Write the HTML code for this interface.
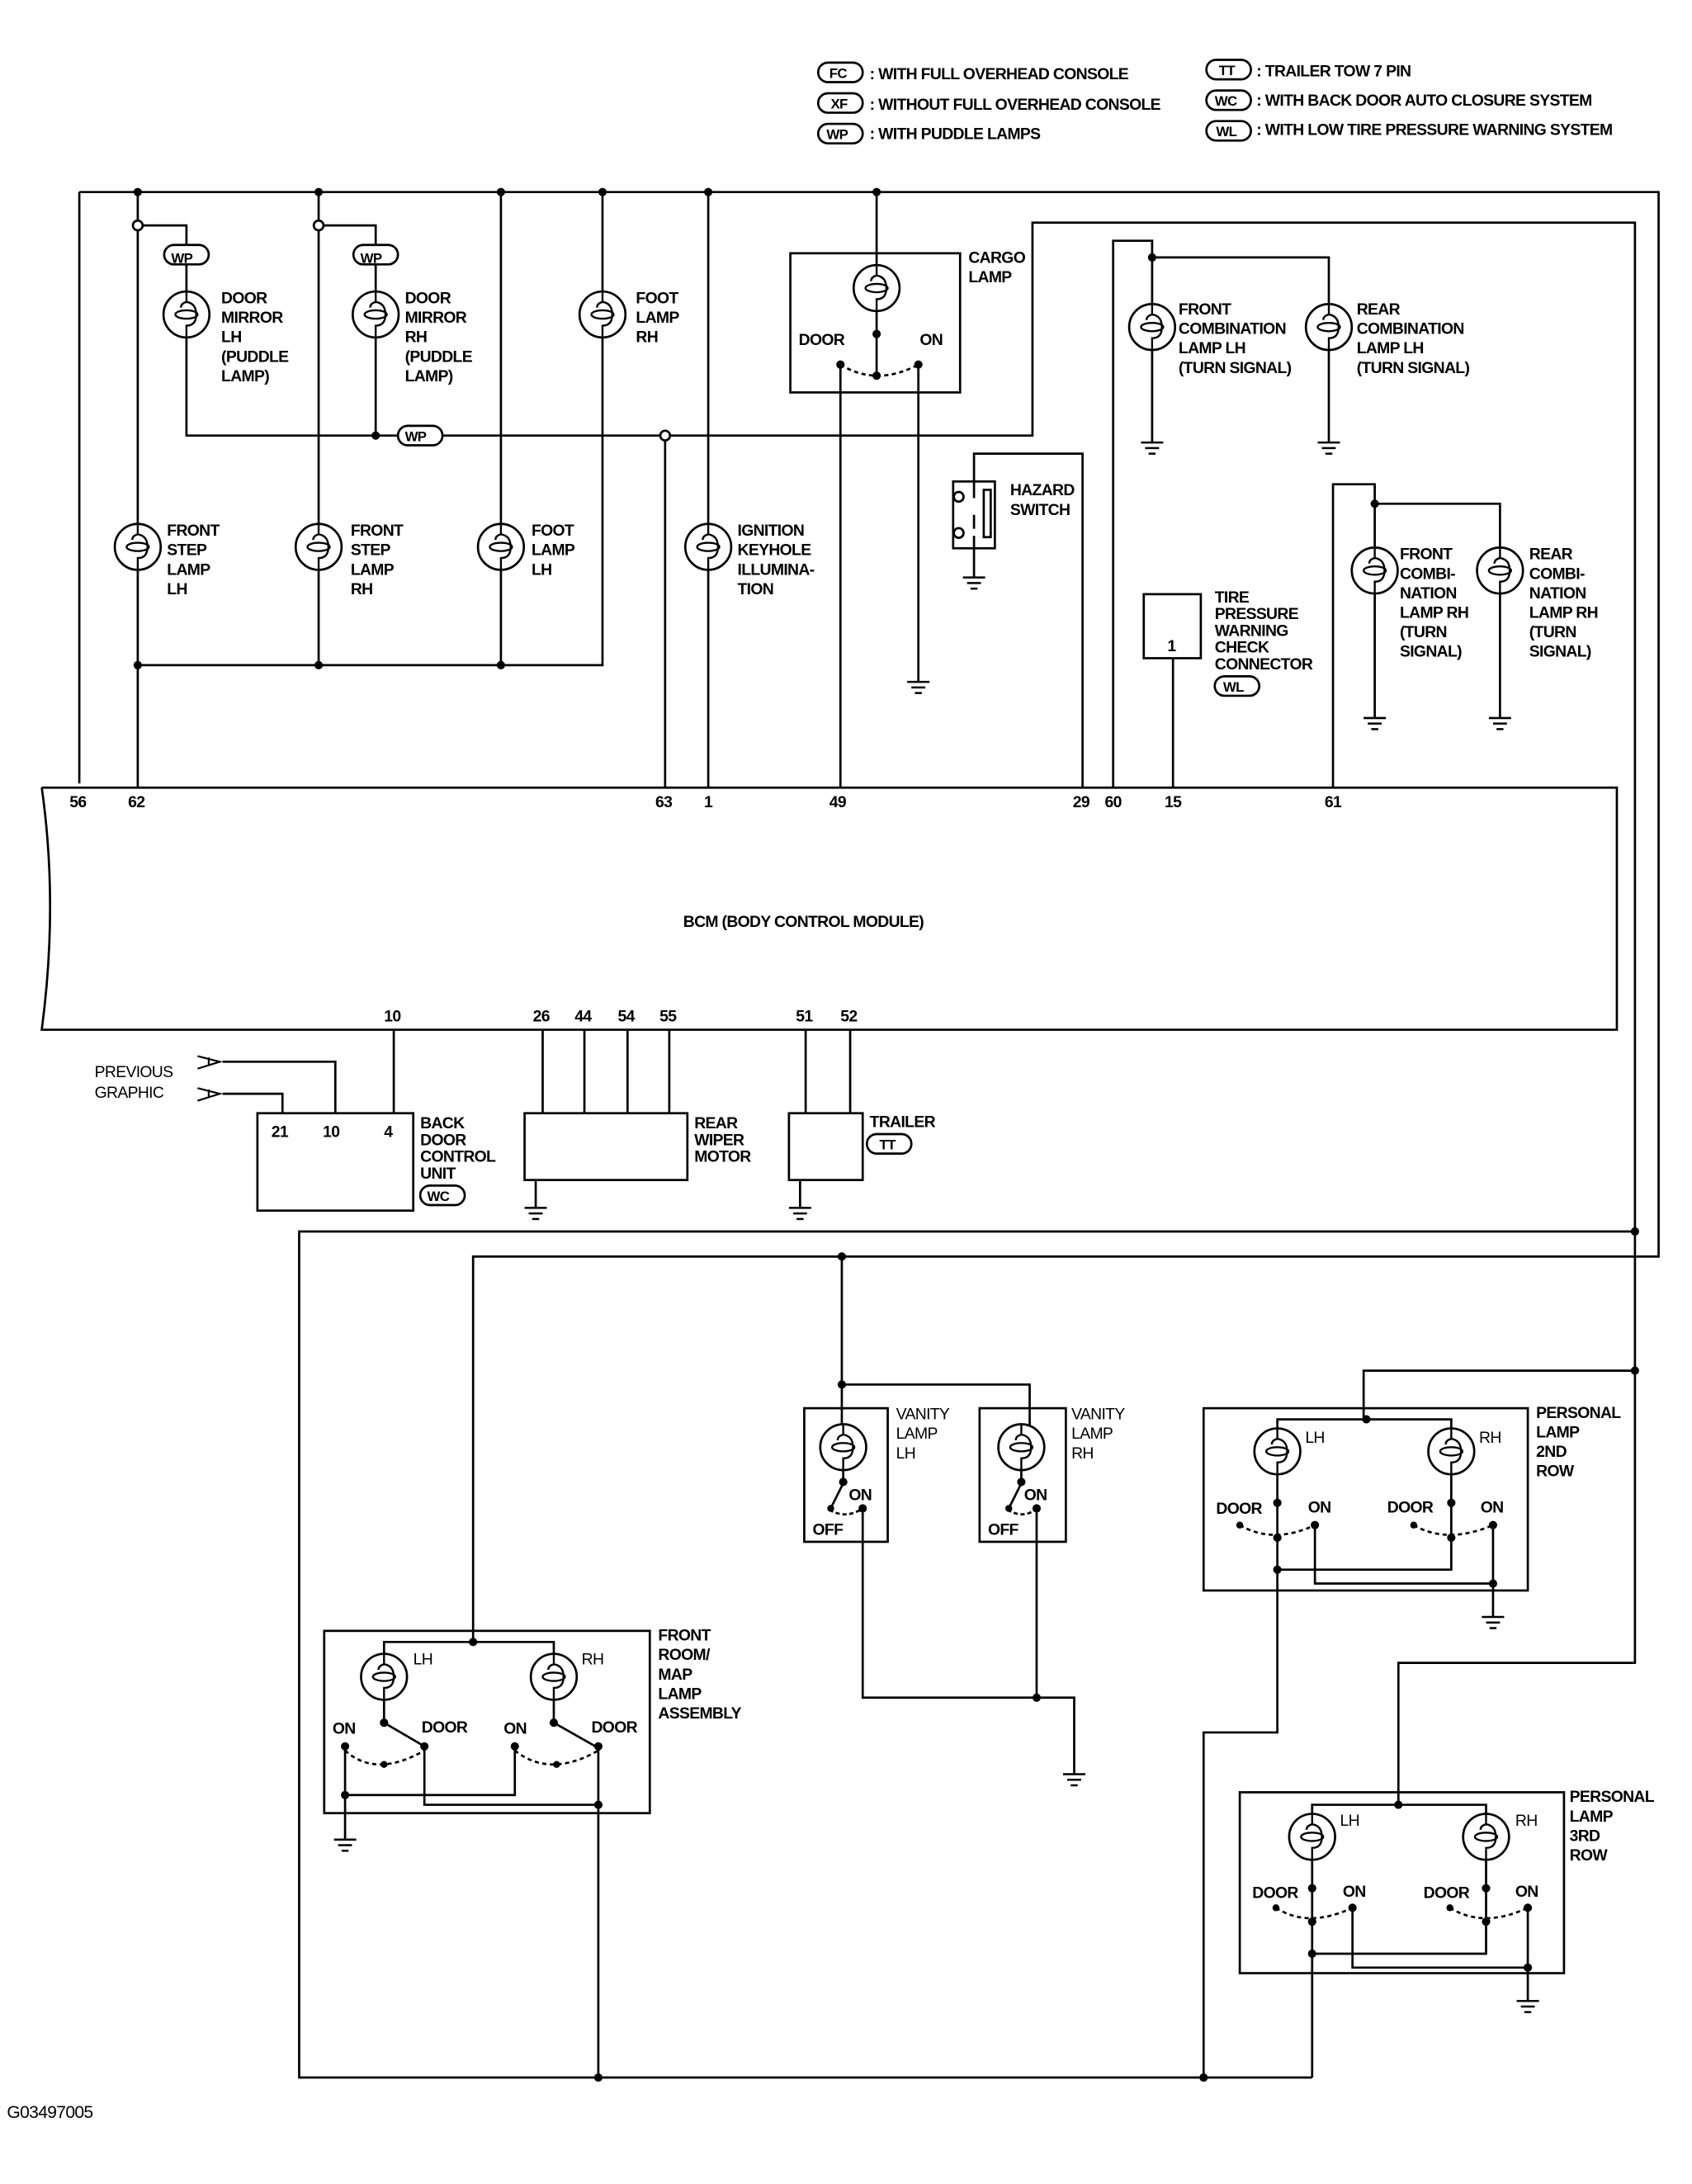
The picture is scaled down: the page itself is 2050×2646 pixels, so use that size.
<!DOCTYPE html>
<html><head><meta charset="utf-8"><style>
html,body{margin:0;padding:0;background:#fff;}
svg{display:block;}
text{font-family:"Liberation Sans",sans-serif;font-weight:bold;font-size:11.5px;fill:#000;letter-spacing:-0.4px;}
</style></head><body>
<svg width="2050" height="2646" viewBox="0 0 1216 1569.5" xmlns="http://www.w3.org/2000/svg">
<defs>
<g id="lamp"><circle cx="0" cy="0" r="16.5" fill="#fff" stroke="#000" stroke-width="1.6"/>
<path d="M0,-16.5 V-9 Q-4,-8 -4,-5 M0,-9 Q7,-8 7,0 Q7,8 0,8 V16.5" fill="none" stroke="#000" stroke-width="1.4"/>
<ellipse cx="0" cy="0" rx="8" ry="3" fill="none" stroke="#000" stroke-width="1.4"/></g>
<g id="gnd"><path d="M-8,0 H8 M-5,4 H5 M-2.5,8 H2.5" stroke="#000" stroke-width="1.5"/></g>
</defs>
<g fill="none" stroke="#000" stroke-width="1.6">
<!-- legend ovals -->
<rect x="588" y="45" width="32" height="14" rx="7"/>
<rect x="588" y="67" width="32" height="14" rx="7"/>
<rect x="588" y="89" width="32" height="14" rx="7"/>
<rect x="867" y="43" width="32" height="14" rx="7"/>
<rect x="867" y="65" width="32" height="14" rx="7"/>
<rect x="867" y="87" width="32" height="14" rx="7"/>

<!-- top bus -->
<path d="M57,138 H1192 V903 H340 V1180"/>
<path d="M57,138 V563"/>
<path d="M99,138 V566"/>
<path d="M229,138 V478"/>
<path d="M360,138 V478"/>
<path d="M433,138 V478 H99"/>
<path d="M509,138 V566"/>
<path d="M99,162 H134 V313 H742 V160 H1175 V1195 H1005 V1297"/>
<path d="M229,162 H270 V313"/>
<path d="M478,313 V566"/>
<path d="M630,138 V240"/>
<!-- cargo -->
<rect x="568" y="182" width="122" height="100"/>
<path d="M630,240 V268"/>
<path d="M604,262 V566"/>
<path d="M660,262 V490"/>
<path d="M604,262 Q630,278 660,262" stroke-dasharray="3,2.5"/>
<!-- hazard -->
<path d="M778,566 V326 H700 V358"/>
<rect x="685" y="346" width="30" height="48"/>
<path d="M700,370 V380 M700,385 V415"/>
<rect x="707" y="352" width="5" height="34"/>
<!-- 60 -->
<path d="M800,566 V173 H828 V318"/>
<path d="M828,185 H955 V318"/>
<!-- tire -->
<rect x="822" y="427" width="41" height="46"/>
<path d="M843,473 V566"/>
<!-- 61 -->
<path d="M958,566 V348 H988 V516"/>
<path d="M988,362 H1078 V516"/>

<!-- BCM -->
<path d="M30,566 H1162 V740 H30 Q42,650 30,566"/>

<!-- bottom of BCM -->
<path d="M283,740 V800"/>
<path d="M241,800 V763 H160"/>
<path d="M203,800 V786 H160"/>
<rect x="185" y="800" width="112" height="70"/>
<path d="M390,740 V800 M420,740 V800 M451,740 V800 M481,740 V800"/>
<rect x="377" y="800" width="117" height="48"/>
<path d="M385,848 V868"/>
<path d="M579,740 V800 M611,740 V800"/>
<rect x="567" y="800" width="53" height="48"/>
<path d="M575,848 V868"/>
<path d="M142,759 L158,763 L142,768 M150,760 V766" stroke-width="1.3"/>
<path d="M142,782 L158,786 L142,791 M150,783 V789" stroke-width="1.3"/>

<!-- lower section -->
<path d="M1175,885 H215 V1493 H943"/>
<path d="M605,903 V995 H740 V1025"/>
<path d="M605,995 V1025"/>
<rect x="578" y="1012" width="60" height="96"/>
<rect x="704" y="1012" width="62" height="96"/>
<path d="M606,1056 V1066 L598,1082 M620,1084 V1220 H772 V1275 M745,1084 V1220 M734,1056 V1066 L726,1082"/>
<path d="M596,1085 Q608,1092 620,1084 M724,1085 Q736,1092 745,1084" stroke-dasharray="3,2"/>

<!-- front room map -->
<rect x="233" y="1172" width="234" height="131"/>
<path d="M276,1190 V1180 H398 V1190"/>
<path d="M276,1222 V1238 L305,1255 M398,1222 V1238 L428,1255"/>
<path d="M248,1255 V1322 M248,1290 H370 V1255 M305,1255 V1297 H430 V1493 M430,1255 V1297"/>
<path d="M248,1258 Q270,1278 305,1258 M370,1258 Q395,1278 430,1258" stroke-dasharray="3,2.5"/>

<!-- personal 2nd row -->
<path d="M1175,985 H980 V1020"/>
<rect x="865" y="1012" width="233" height="131"/>
<path d="M918,1028 V1020 H1043 V1028"/>
<path d="M918,1060 V1245 H865 V1493"/>
<path d="M1043,1060 V1105 V1128 H918 M945,1095 V1138 H1073 M1073,1095 V1162"/>
<path d="M891,1096 Q915,1110 945,1096 M1016,1096 Q1040,1110 1073,1096" stroke-dasharray="3,2.5"/>
<!-- personal 3rd row -->
<rect x="891" y="1288" width="233" height="130"/>
<path d="M943,1305 V1297 H1068 V1305"/>
<path d="M943,1337 V1493"/>
<path d="M1068,1337 V1404 H943 M972,1370 V1414 H1098 M1098,1370 V1438"/>
<path d="M917,1371 Q940,1386 972,1371 M1042,1371 Q1066,1386 1098,1371" stroke-dasharray="3,2.5"/>
</g>

<!-- WP ovals on wires -->
<g fill="#fff" stroke="#000" stroke-width="1.6">
<rect x="118" y="176" width="32" height="14" rx="7"/>
<rect x="254" y="176" width="32" height="14" rx="7"/>
<rect x="286" y="306" width="32" height="14" rx="7"/>
<rect x="873" y="486" width="32" height="14" rx="7"/>
<rect x="623" y="815" width="32" height="14" rx="7"/>
<rect x="302" y="852" width="32" height="14" rx="7"/>
<circle cx="99" cy="162" r="3.5"/><circle cx="229" cy="162" r="3.5"/><circle cx="478" cy="313" r="3.5"/>
<circle cx="689" cy="357" r="3.5"/><circle cx="689" cy="383" r="3.5"/>
</g>

<!-- lamps -->
<use href="#lamp" x="134" y="226"/><use href="#lamp" x="270" y="226"/><use href="#lamp" x="433" y="226"/>
<use href="#lamp" x="99" y="393"/><use href="#lamp" x="229" y="393"/><use href="#lamp" x="360" y="393"/><use href="#lamp" x="509" y="393"/>
<use href="#lamp" x="630" y="207"/>
<use href="#lamp" x="828" y="235"/><use href="#lamp" x="955" y="235"/>
<use href="#lamp" x="988" y="410"/><use href="#lamp" x="1078" y="410"/>
<use href="#lamp" x="606" y="1040"/><use href="#lamp" x="734" y="1040"/>
<use href="#lamp" x="276" y="1205"/><use href="#lamp" x="398" y="1205"/>
<use href="#lamp" x="918" y="1043"/><use href="#lamp" x="1043" y="1043"/>
<use href="#lamp" x="943" y="1320"/><use href="#lamp" x="1068" y="1320"/>

<!-- grounds -->
<use href="#gnd" x="660" y="490"/><use href="#gnd" x="700" y="415"/>
<use href="#gnd" x="828" y="318"/><use href="#gnd" x="955" y="318"/>
<use href="#gnd" x="988" y="516"/><use href="#gnd" x="1078" y="516"/>
<use href="#gnd" x="385" y="868"/><use href="#gnd" x="575" y="868"/>
<use href="#gnd" x="772" y="1275"/><use href="#gnd" x="248" y="1322"/>
<use href="#gnd" x="1073" y="1162"/><use href="#gnd" x="1098" y="1438"/>

<!-- dots -->
<g fill="#000">
<circle cx="99" cy="138" r="3"/><circle cx="229" cy="138" r="3"/><circle cx="360" cy="138" r="3"/><circle cx="433" cy="138" r="3"/><circle cx="509" cy="138" r="3"/><circle cx="630" cy="138" r="3"/>
<circle cx="99" cy="478" r="3"/><circle cx="229" cy="478" r="3"/><circle cx="360" cy="478" r="3"/>
<circle cx="270" cy="313" r="3"/>
<circle cx="604" cy="262" r="3"/><circle cx="660" cy="262" r="3"/><circle cx="630" cy="240" r="3"/><circle cx="630" cy="270" r="3"/>
<circle cx="828" cy="185" r="3"/><circle cx="988" cy="362" r="3"/>
<circle cx="1175" cy="885" r="3"/><circle cx="605" cy="903" r="3"/><circle cx="605" cy="995" r="3"/>
<circle cx="606" cy="1065" r="3"/><circle cx="620" cy="1084" r="3"/><circle cx="597" cy="1084" r="2.5"/>
<circle cx="734" cy="1065" r="3"/><circle cx="745" cy="1084" r="3"/><circle cx="725" cy="1084" r="2.5"/><circle cx="745" cy="1220" r="3"/>
<circle cx="340" cy="1180" r="3"/><circle cx="276" cy="1238" r="3"/><circle cx="398" cy="1238" r="3"/>
<circle cx="248" cy="1255" r="3"/><circle cx="305" cy="1255" r="3"/><circle cx="370" cy="1255" r="3"/><circle cx="430" cy="1255" r="3"/>
<circle cx="276" cy="1268" r="2.5"/><circle cx="400" cy="1268" r="2.5"/>
<circle cx="248" cy="1290" r="3"/><circle cx="430" cy="1297" r="3"/><circle cx="430" cy="1493" r="3"/>
<circle cx="1175" cy="985" r="3"/><circle cx="982" cy="1020" r="3"/>
<circle cx="918" cy="1080" r="3"/><circle cx="1043" cy="1080" r="3"/><circle cx="891" cy="1096" r="2.5"/><circle cx="945" cy="1096" r="3"/><circle cx="1016" cy="1096" r="2.5"/><circle cx="1073" cy="1096" r="3"/>
<circle cx="918" cy="1105" r="3"/><circle cx="1043" cy="1105" r="3"/><circle cx="918" cy="1128" r="3"/><circle cx="1073" cy="1138" r="3"/>
<circle cx="1005" cy="1297" r="3"/>
<circle cx="943" cy="1357" r="3"/><circle cx="1068" cy="1357" r="3"/><circle cx="917" cy="1371" r="2.5"/><circle cx="972" cy="1371" r="3"/><circle cx="1042" cy="1371" r="2.5"/><circle cx="1098" cy="1371" r="3"/>
<circle cx="943" cy="1381" r="3"/><circle cx="1068" cy="1381" r="3"/><circle cx="943" cy="1404" r="3"/><circle cx="1098" cy="1414" r="3"/>
<circle cx="865" cy="1493" r="3"/>
</g>

<!-- legend text -->
<g font-size="10">
<text x="596" y="56" style="font-size:10px">FC</text><text x="597" y="78" style="font-size:10px">XF</text><text x="594" y="100" style="font-size:10px">WP</text>
<text x="876" y="54" style="font-size:10px">TT</text><text x="873" y="76" style="font-size:10px">WC</text><text x="874" y="98" style="font-size:10px">WL</text>
<text x="259" y="189" style="font-size:10px">WP</text><text x="123" y="189" style="font-size:10px">WP</text><text x="291" y="317" style="font-size:10px">WP</text>
<text x="879" y="497" style="font-size:10px">WL</text><text x="632" y="826" style="font-size:10px">TT</text><text x="307" y="863" style="font-size:10px">WC</text>
</g>
<text x="625" y="57">: WITH FULL OVERHEAD CONSOLE</text>
<text x="625" y="79">: WITHOUT FULL OVERHEAD CONSOLE</text>
<text x="625" y="100">: WITH PUDDLE LAMPS</text>
<text x="903" y="55">: TRAILER TOW 7 PIN</text>
<text x="903" y="76">: WITH BACK DOOR AUTO CLOSURE SYSTEM</text>
<text x="903" y="97">: WITH LOW TIRE PRESSURE WARNING SYSTEM</text>

<!-- labels -->
<g>
<text x="159" y="218">DOOR</text><text x="159" y="232">MIRROR</text><text x="159" y="246">LH</text><text x="159" y="260">(PUDDLE</text><text x="159" y="274">LAMP)</text>
<text x="291" y="218">DOOR</text><text x="291" y="232">MIRROR</text><text x="291" y="246">RH</text><text x="291" y="260">(PUDDLE</text><text x="291" y="274">LAMP)</text>
<text x="457" y="218">FOOT</text><text x="457" y="232">LAMP</text><text x="457" y="246">RH</text>
<text x="120" y="385">FRONT</text><text x="120" y="399">STEP</text><text x="120" y="413">LAMP</text><text x="120" y="427">LH</text>
<text x="252" y="385">FRONT</text><text x="252" y="399">STEP</text><text x="252" y="413">LAMP</text><text x="252" y="427">RH</text>
<text x="382" y="385">FOOT</text><text x="382" y="399">LAMP</text><text x="382" y="413">LH</text>
<text x="530" y="385">IGNITION</text><text x="530" y="399">KEYHOLE</text><text x="530" y="413">ILLUMINA-</text><text x="530" y="427">TION</text>
<text x="696" y="189">CARGO</text><text x="696" y="203">LAMP</text>
<text x="574" y="248">DOOR</text><text x="661" y="248">ON</text>
<text x="726" y="356">HAZARD</text><text x="726" y="370">SWITCH</text>
<text x="847" y="226">FRONT</text><text x="847" y="240">COMBINATION</text><text x="847" y="254">LAMP LH</text><text x="847" y="268">(TURN SIGNAL)</text>
<text x="975" y="226">REAR</text><text x="975" y="240">COMBINATION</text><text x="975" y="254">LAMP LH</text><text x="975" y="268">(TURN SIGNAL)</text>
<text x="873" y="433">TIRE</text><text x="873" y="445">PRESSURE</text><text x="873" y="457">WARNING</text><text x="873" y="469">CHECK</text><text x="873" y="481">CONNECTOR</text>
<text x="839" y="468">1</text>
<text x="1006" y="402">FRONT</text><text x="1006" y="416">COMBI-</text><text x="1006" y="430">NATION</text><text x="1006" y="444">LAMP RH</text><text x="1006" y="458">(TURN</text><text x="1006" y="472">SIGNAL)</text>
<text x="1099" y="402">REAR</text><text x="1099" y="416">COMBI-</text><text x="1099" y="430">NATION</text><text x="1099" y="444">LAMP RH</text><text x="1099" y="458">(TURN</text><text x="1099" y="472">SIGNAL)</text>
<text x="50" y="580">56</text><text x="92" y="580">62</text><text x="471" y="580">63</text><text x="506" y="580">1</text><text x="596" y="580">49</text><text x="771" y="580">29</text><text x="794" y="580">60</text><text x="837" y="580">15</text><text x="952" y="580">61</text>
<text x="491" y="666">BCM (BODY CONTROL MODULE)</text>
<text x="276" y="734">10</text><text x="383" y="734">26</text><text x="413" y="734">44</text><text x="444" y="734">54</text><text x="474" y="734">55</text><text x="572" y="734">51</text><text x="604" y="734">52</text>
<text x="68" y="774" style="font-weight:normal">PREVIOUS</text><text x="68" y="789" style="font-weight:normal">GRAPHIC</text>
<text x="195" y="817">21</text><text x="232" y="817">10</text><text x="276" y="817">4</text>
<text x="302" y="811">BACK</text><text x="302" y="823">DOOR</text><text x="302" y="835">CONTROL</text><text x="302" y="847">UNIT</text>
<text x="499" y="811">REAR</text><text x="499" y="823">WIPER</text><text x="499" y="835">MOTOR</text>
<text x="625" y="810">TRAILER</text>
<text x="644" y="1020" style="font-weight:normal">VANITY</text><text x="644" y="1034" style="font-weight:normal">LAMP</text><text x="644" y="1048" style="font-weight:normal">LH</text>
<text x="770" y="1020" style="font-weight:normal">VANITY</text><text x="770" y="1034" style="font-weight:normal">LAMP</text><text x="770" y="1048" style="font-weight:normal">RH</text>
<text x="610" y="1078">ON</text><text x="584" y="1103">OFF</text><text x="736" y="1078">ON</text><text x="710" y="1103">OFF</text>
<text x="473" y="1179">FRONT</text><text x="473" y="1193">ROOM/</text><text x="473" y="1207">MAP</text><text x="473" y="1221">LAMP</text><text x="473" y="1235">ASSEMBLY</text>
<text x="297" y="1196" style="font-weight:normal">LH</text><text x="418" y="1196" style="font-weight:normal">RH</text>
<text x="239" y="1246">ON</text><text x="303" y="1245">DOOR</text><text x="362" y="1246">ON</text><text x="425" y="1245">DOOR</text>
<text x="1104" y="1019">PERSONAL</text><text x="1104" y="1033">LAMP</text><text x="1104" y="1047">2ND</text><text x="1104" y="1061">ROW</text>
<text x="938" y="1037" style="font-weight:normal">LH</text><text x="1063" y="1037" style="font-weight:normal">RH</text>
<text x="874" y="1088">DOOR</text><text x="940" y="1087">ON</text><text x="997" y="1087">DOOR</text><text x="1064" y="1087">ON</text>
<text x="1128" y="1295">PERSONAL</text><text x="1128" y="1309">LAMP</text><text x="1128" y="1323">3RD</text><text x="1128" y="1337">ROW</text>
<text x="963" y="1312" style="font-weight:normal">LH</text><text x="1089" y="1312" style="font-weight:normal">RH</text>
<text x="900" y="1364">DOOR</text><text x="965" y="1363">ON</text><text x="1023" y="1364">DOOR</text><text x="1089" y="1363">ON</text>
<text x="5" y="1522" style="font-weight:normal;font-size:12.5px">G03497005</text>
</g>
</svg>
</body></html>
